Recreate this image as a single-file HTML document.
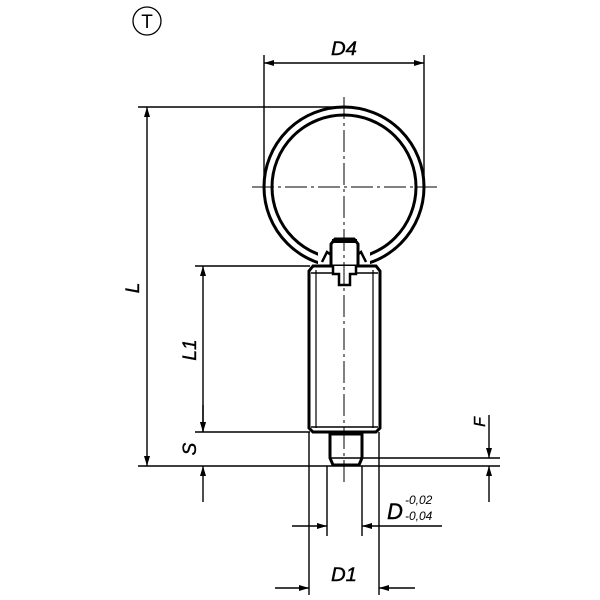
<!DOCTYPE html>
<html><head><style>body{margin:0;background:#fff}svg{display:block}</style></head><body>
<svg width="600" height="600" viewBox="0 0 600 600" xmlns="http://www.w3.org/2000/svg" font-family="Liberation Sans, sans-serif" font-style="italic">
<defs>
<marker id="a" viewBox="0 0 10 6" refX="10" refY="3" markerWidth="11" markerHeight="6" markerUnits="userSpaceOnUse" orient="auto-start-reverse"><path d="M0,0L10,3L0,6z" fill="#000"/></marker>
</defs>
<g stroke="#000" fill="none">
<circle cx="147" cy="21" r="14" stroke-width="1.3"/>
<circle cx="344" cy="187" r="80" stroke-width="3"/>
<circle cx="344" cy="187" r="72" stroke-width="3"/>
<rect x="318" y="236" width="52" height="40" fill="#fff" stroke="none"/>
<path d="M322,262 L327,252 L334,257" stroke-width="2.5"/>
<path d="M366,262 L361,252 L355,257" stroke-width="2.5"/>
<path d="M331,266 V244 L335,239 H354 L358,244 V266" stroke-width="3" fill="#fff"/>
<line x1="332" y1="241" x2="357" y2="241" stroke-width="4"/>
<path d="M313,266 H376 L380,271 V428 L376,432 H313 L309,428 V271 Z" stroke-width="3" fill="#fff"/>
<line x1="311" y1="273" x2="378" y2="273" stroke-width="1.5"/>
<line x1="311" y1="427" x2="378" y2="427" stroke-width="1.5"/>
<line x1="316" y1="270" x2="316" y2="428" stroke-width="1.2"/>
<line x1="373" y1="270" x2="373" y2="428" stroke-width="1.2"/>
<path d="M333,266 V274 H339 V285 H350 V274 H356 V266" stroke-width="2.5" fill="#fff"/>
<path d="M330,433 V458 L333,465 H359 L362,458 V433" stroke-width="3"/>
<line x1="330" y1="434" x2="362" y2="434" stroke-width="3"/>
<line x1="331" y1="458" x2="361" y2="458" stroke-width="1.5"/>
<line x1="333" y1="465" x2="359" y2="465" stroke-width="3"/>
<line x1="344" y1="97" x2="344" y2="482" stroke-width="1" stroke-dasharray="22,4,3,4"/>
<line x1="252" y1="187" x2="437" y2="187" stroke-width="1" stroke-dasharray="22,4,3,4"/>
</g>
<g stroke="#000" stroke-width="1.4" fill="none">
<line x1="264" y1="55" x2="264" y2="187"/>
<line x1="424" y1="55" x2="424" y2="187"/>
<line x1="138" y1="107" x2="344" y2="107"/>
<line x1="195" y1="266" x2="310" y2="266"/>
<line x1="195" y1="432" x2="310" y2="432"/>
<line x1="138" y1="466" x2="500" y2="466"/>
<line x1="360" y1="458" x2="500" y2="458"/>
<line x1="309" y1="432" x2="309" y2="595"/>
<line x1="379" y1="432" x2="379" y2="595"/>
<line x1="327" y1="466" x2="327" y2="536"/>
<line x1="362" y1="466" x2="362" y2="536"/>
<line x1="264" y1="63" x2="424" y2="63" marker-start="url(#a)" marker-end="url(#a)"/>
<line x1="147" y1="107" x2="147" y2="466" marker-start="url(#a)" marker-end="url(#a)"/>
<line x1="203" y1="266" x2="203" y2="432" marker-start="url(#a)" marker-end="url(#a)"/>
<line x1="203" y1="405" x2="203" y2="432" marker-end="url(#a)"/>
<line x1="203" y1="502" x2="203" y2="466" marker-end="url(#a)"/>
<line x1="489" y1="415" x2="489" y2="458" marker-end="url(#a)"/>
<line x1="489" y1="502" x2="489" y2="466" marker-end="url(#a)"/>
<line x1="292" y1="526" x2="327" y2="526" marker-end="url(#a)"/>
<line x1="442" y1="526" x2="362" y2="526" marker-end="url(#a)"/>
<line x1="275" y1="588" x2="309" y2="588" marker-end="url(#a)"/>
<line x1="415" y1="588" x2="379" y2="588" marker-end="url(#a)"/>
</g>
<g fill="#000" font-size="19" stroke="#000" stroke-width="0.4">
<text x="147" y="28" font-style="normal" font-size="19" text-anchor="middle" stroke="none">T</text>
<text x="344" y="55" text-anchor="middle" textLength="26" lengthAdjust="spacingAndGlyphs">D4</text>
<text transform="translate(139,288) rotate(-90)" text-anchor="middle">L</text>
<text transform="translate(196,350) rotate(-90)" text-anchor="middle">L1</text>
<text transform="translate(196,449) rotate(-90)" text-anchor="middle">S</text>
<text transform="translate(485,422) rotate(-90)" text-anchor="middle" font-size="16">F</text>
<text x="387" y="519" font-size="22">D</text>
<text x="405" y="504" font-size="12" stroke="none">-0,02</text>
<text x="405" y="520" font-size="12" stroke="none">-0,04</text>
<text x="344" y="581" text-anchor="middle" textLength="26" lengthAdjust="spacingAndGlyphs">D1</text>
</g>
</svg>
</body></html>
